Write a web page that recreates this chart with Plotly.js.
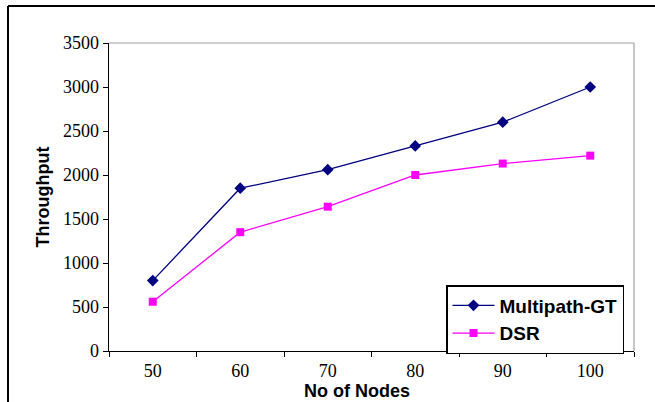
<!DOCTYPE html>
<html><head><meta charset="utf-8">
<script src="https://cdn.plot.ly/plotly-3.0.1.min.js"></script>
<style>body{margin:0;background:#fff}#chart{width:655px;height:402px}</style>
</head><body><div id="chart"></div>
<script>
const nodes = [50, 60, 70, 80, 90, 100];
const multipathGT = [800, 1850, 2060, 2330, 2600, 3000];
const dsr = [560, 1350, 1640, 2000, 2130, 2220];
const yTicks = [0, 500, 1000, 1500, 2000, 2500, 3000, 3500];
const binEdges = [45, 55, 65, 75, 85, 95, 105];

const traces = [
  {x: nodes, y: multipathGT, name: 'Multipath-GT', type: 'scatter', mode: 'lines+markers',
   line: {color: '#000080', width: 1.3}, marker: {symbol: 'diamond', size: 9, color: '#000080'}},
  {x: nodes, y: dsr, name: 'DSR', type: 'scatter', mode: 'lines+markers',
   line: {color: '#FF00FF', width: 1.3}, marker: {symbol: 'square', size: 8, color: '#FF00FF'}},
  {x: [binEdges[0]], y: [0], xaxis: 'x2', showlegend: false, hoverinfo: 'skip', mode: 'markers', marker: {opacity: 0}}
];

const serif = 'Times New Roman, Liberation Serif, serif';
const sans = 'Arial, Liberation Sans, sans-serif';
const layout = {
  width: 655, height: 402,
  margin: {l: 109, r: 21, t: 43, b: 51},
  paper_bgcolor: '#fff', plot_bgcolor: '#fff',
  showlegend: true,
  xaxis: {range: [45, 105], tickvals: nodes, ticktext: nodes.map(String), ticks: '', showgrid: false, zeroline: false,
    showline: true, linecolor: '#000', linewidth: 1.3, automargin: false,
    tickfont: {family: serif, size: 18, color: '#000'},
    ticklabelstandoff: 3},
  xaxis2: {range: [45, 105], overlaying: 'x', side: 'bottom', anchor: 'y', tickvals: binEdges, ticktext: binEdges.map(() => ''),
    ticks: 'outside', ticklen: 5, tickcolor: '#000', tickwidth: 1, showgrid: false, zeroline: false, showline: false},
  yaxis: {range: [0, 3500], tickvals: yTicks, ticks: 'outside', ticklen: 5, tickcolor: '#000', tickwidth: 1,
    showgrid: false, zeroline: false, showline: true, linecolor: '#000', linewidth: 1.3, automargin: false,
    tickfont: {family: serif, size: 18, color: '#000'},
    title: {text: 'Throughput', font: {family: sans, size: 18, color: '#000', weight: 'bold'}, standoff: 8}},
  legend: {x: (446 - 109) / 525, y: (351 - 285) / 308, xanchor: 'left', yanchor: 'top', bgcolor: '#fff', bordercolor: '#000', borderwidth: 1.5,
    itemwidth: 42,
    font: {family: sans, size: 19, color: '#000', weight: 'bold'}, tracegroupgap: 0},
  annotations: [
    {text: 'No of Nodes', xref: 'paper', yref: 'paper', x: (356.5 - 109) / 525, y: (351 - 391) / 308,
     xanchor: 'center', yanchor: 'middle', showarrow: false,
     font: {family: sans, size: 18, color: '#000', weight: 'bold'}}
  ],
  shapes: [
    {type: 'line', xref: 'paper', yref: 'paper', x0: 0, x1: 1, y0: 1, y1: 1, line: {color: '#a0a0a0', width: 1.2}},
    {type: 'line', xref: 'paper', yref: 'paper', x0: 1, x1: 1, y0: 0, y1: 1, line: {color: '#a0a0a0', width: 1.2}},
    {type: 'line', xref: 'paper', yref: 'paper', x0: (8 - 109) / 525, x1: (8 - 109) / 525, y0: (351 - 6) / 308, y1: (351 - 410) / 308, line: {color: '#000', width: 2}},
    {type: 'line', xref: 'paper', yref: 'paper', x0: (8 - 109) / 525, x1: (660 - 109) / 525, y0: (351 - 6) / 308, y1: (351 - 6) / 308, line: {color: '#000', width: 2}}
  ]
};
Plotly.newPlot('chart', traces, layout, {displayModeBar: false, staticPlot: true});
</script></body></html>
